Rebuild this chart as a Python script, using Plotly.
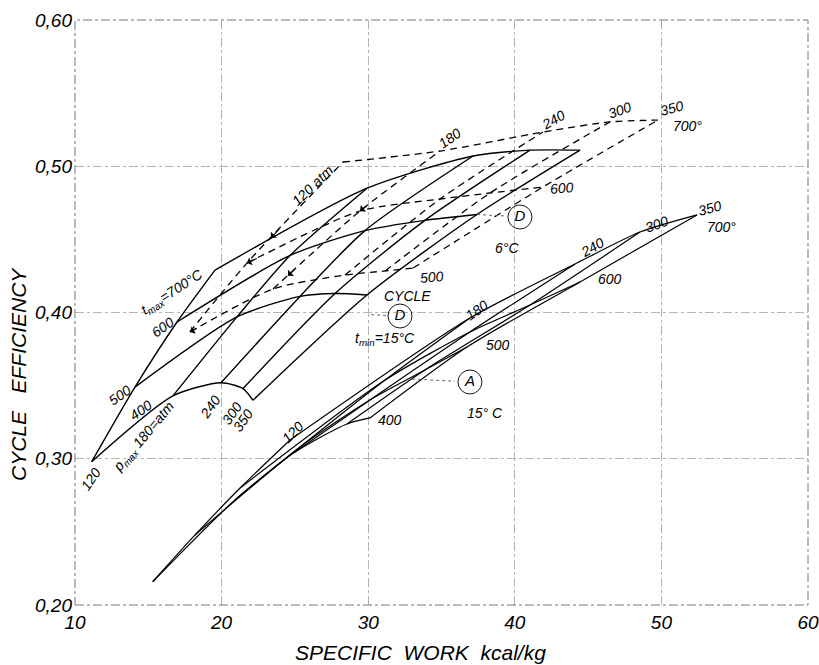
import plotly.graph_objects as go

PMAX = [120, 180, 240, 300, 350]
TMAX = [400, 500, 600, 700]

# Cycle D, t_min = 15 C (solid network) rows = t_max 400..700, cols = p_max
D15_X = [[11.14, 16.68, 19.96, 21.46, 22.14],
         [14.09, 21.05, 25.35, 27.74, 29.92],
         [16.96, 24.67, 29.78, 33.87, 37.42],
         [19.55, 29.92, 37.15, 41.04, 44.45]]
D15_Y = [[0.298, 0.343, 0.352, 0.348, 0.340],
         [0.349, 0.397, 0.411, 0.413, 0.412],
         [0.3935, 0.439, 0.456, 0.463, 0.467],
         [0.429, 0.485, 0.507, 0.511, 0.511]]

# Cycle D, t_min = 6 C (dashed network) rows = t_max 500..700
D6_T = [500, 600, 700]
D6_X = [[17.84, 23.51, 28.42, 31.15, 33.06],
        [21.73, 29.44, 34.90, 38.31, 41.92],
        [28.28, 34.90, 41.92, 46.49, 49.77]]
D6_Y = [[0.3867, 0.4161, 0.4256, 0.4284, 0.4304],
        [0.4338, 0.4694, 0.4776, 0.4817, 0.4858],
        [0.5029, 0.5104, 0.5234, 0.5303, 0.5316]]

# Cycle A, t_min = 15 C
A_X = [[15.30, 20.91, 25.01, 28.55, 30.12],
       [18.19, 25.35, 30.12, 33.87, 36.74],
       [21.26, 31.15, 36.94, 41.04, 44.45],
       [24.67, 36.94, 44.11, 48.54, 52.43]]
A_Y = [[0.2159, 0.2718, 0.3046, 0.3238, 0.3279],
       [0.2479, 0.3080, 0.3402, 0.3607, 0.3764],
       [0.2800, 0.3538, 0.3867, 0.4051, 0.4209],
       [0.3128, 0.3962, 0.4332, 0.4550, 0.4667]]

X_TICKS = [10, 20, 30, 40, 50, 60]
Y_TICKS = [0.2, 0.3, 0.4, 0.5, 0.6]
Y_TICKTEXT = ["0,20", "0,30", "0,40", "0,50", "0,60"]

# text labels: (text, x, y, angle)
LABELS = [
    ("120", 11.07, 0.2862, -55),
    ("p<sub>max</sub> 180=atm", 14.71, 0.3149, -50),
    ("400", 14.50, 0.3333, -35),
    ("500", 13.07, 0.3436, -35),
    ("600", 16.00, 0.3900, -35),
    ("t<sub>max</sub>=700°C", 16.68, 0.4140, -33),
    ("240", 19.21, 0.3354, -55),
    ("300", 20.71, 0.3313, -55),
    ("350", 21.46, 0.3265, -55),
    ("120 atm", 26.23, 0.4872, -44),
    ("180", 35.58, 0.5193, -35),
    ("240", 42.61, 0.5316, -30),
    ("300", 47.18, 0.5385, -20),
    ("350", 50.72, 0.5398, -15),
    ("700°", 51.81, 0.5275, 0),
    ("600", 43.22, 0.4851, -5),
    ("6°C", 39.47, 0.4440, 0),
    ("500", 34.35, 0.4243, -5),
    ("CYCLE", 32.65, 0.4113, 0),
    ("t<sub>min</sub>=15°C", 31.15, 0.3819, 0),
    ("120", 24.87, 0.3183, -45),
    ("180", 37.42, 0.4017, -35),
    ("240", 45.33, 0.4448, -30),
    ("300", 49.70, 0.4605, -20),
    ("350", 53.32, 0.4715, -15),
    ("700°", 54.13, 0.4585, 0),
    ("400", 31.49, 0.3265, 0),
    ("500", 38.85, 0.3778, 0),
    ("600", 46.49, 0.4229, 0),
    ("15° C", 37.97, 0.3313, 0),
]
CIRCLES = [("D", 40.35, 0.4653), ("D", 32.17, 0.3976), ("A", 36.94, 0.3525)]
LEADERS = [([37.42, 39.4], [0.467, 0.466]), ([30.2, 31.2], [0.3985, 0.3980]),
           ([33.0, 35.9], [0.3545, 0.3530])]

FONT = "Liberation Sans"
fig = go.Figure()


def line(xs, ys, dash="solid", width=1.4):
    fig.add_trace(go.Scatter(x=xs, y=ys, mode="lines", showlegend=False,
                             hoverinfo="skip",
                             line=dict(color="black", width=width, dash=dash,
                                       shape="spline", smoothing=0.7)))


def network(X, Y, dash, width):
    for r in range(len(X)):
        line(X[r], Y[r], dash, width)
    for c in range(len(X[0])):
        line([X[r][c] for r in range(len(X))], [Y[r][c] for r in range(len(X))], dash, width)


network(D15_X, D15_Y, "solid", 1.4)
network(D6_X, D6_Y, "7px,5px", 1.3)
network(A_X, A_Y, "solid", 1.2)


def arrow_between(xa, ya, xb, yb, f):
    """arrow head at fraction f from node a toward node b, pointing toward a"""
    x0, y0 = xa + f * (xb - xa), ya + f * (yb - ya)
    x1, y1 = x0 + 0.1 * (xb - xa), y0 + 0.1 * (yb - ya)
    return dict(x=x0, y=y0, ax=x1, ay=y1, xref="x", yref="y", axref="x", ayref="y",
                text="", showarrow=True, arrowhead=1, arrowsize=1.3, arrowwidth=1.1,
                arrowcolor="black")


arrows = [
    arrow_between(D6_X[0][0], D6_Y[0][0], D6_X[0][1], D6_Y[0][1], 0.0),
    arrow_between(D6_X[1][0], D6_Y[1][0], D6_X[1][1], D6_Y[1][1], 0.0),
    arrow_between(D6_X[1][0], D6_Y[1][0], D6_X[2][0], D6_Y[2][0], 0.25),
    arrow_between(D6_X[0][1], D6_Y[0][1], D6_X[1][1], D6_Y[1][1], 0.17),
    arrow_between(D6_X[1][1], D6_Y[1][1], D6_X[2][1], D6_Y[2][1], 0.0),
]

for xs, ys in LEADERS:
    fig.add_trace(go.Scatter(x=xs, y=ys, mode="lines", showlegend=False, hoverinfo="skip",
                             line=dict(color="#555", width=0.9, dash="dot")))

fig.add_trace(go.Scatter(x=[c[1] for c in CIRCLES], y=[c[2] for c in CIRCLES],
                         mode="markers+text", text=[c[0] for c in CIRCLES],
                         textposition="middle center", showlegend=False, hoverinfo="skip",
                         textfont=dict(family=FONT, size=15, color="black", style="italic"),
                         marker=dict(symbol="circle-open", size=24,
                                     line=dict(color="black", width=0.9), color="black")))

ann = []
for t, x, y, a in LABELS:
    ann.append(dict(x=x, y=y, xref="x", yref="y", text=t, textangle=a, showarrow=False,
                    font=dict(family=FONT, size=14, color="black", style="italic")))
ann += arrows
# axis titles; positions relative to the plot area (75..808 px, 20..605 px)
ann.append(dict(x=(18 - 75) / 733, y=(605 - 374) / 585, xref="paper", yref="paper",
                xanchor="center", yanchor="middle",
                text="CYCLE   EFFICIENCY", textangle=-90, showarrow=False,
                font=dict(family=FONT, size=21, color="black", style="italic")))
ann.append(dict(x=(420 - 75) / 733, y=(605 - 652) / 585, xref="paper", yref="paper",
                xanchor="center", yanchor="middle",
                text="SPECIFIC  WORK  kcal/kg", showarrow=False,
                font=dict(family=FONT, size=21, color="black", style="italic")))

fig.update_layout(
    width=819, height=665, margin=dict(l=75, r=11, t=20, b=60, autoexpand=False),
    plot_bgcolor="white", paper_bgcolor="white",
    annotations=ann,
    shapes=[dict(type="rect", xref="paper", yref="paper", x0=0, x1=1, y0=0, y1=1,
                 line=dict(color="#777", width=1, dash="dashdot"))],
    xaxis=dict(range=[10, 60], tickvals=X_TICKS, showgrid=True, griddash="dashdot",
               gridcolor="#b5b5b5", gridwidth=0.8, zeroline=False, showline=False,
               ticks="", automargin=False, ticklabelstandoff=4,
               tickfont=dict(family=FONT, size=19, color="black", style="italic")),
    yaxis=dict(range=[0.2, 0.6], tickvals=Y_TICKS, ticktext=Y_TICKTEXT, showgrid=True,
               griddash="dashdot", gridcolor="#b5b5b5", gridwidth=0.8, zeroline=False,
               showline=False, ticks="", automargin=False, ticklabelstandoff=2,
               tickfont=dict(family=FONT, size=19, color="black", style="italic")),
)
fig.write_html("out.html", config={"displayModeBar": False},
               post_script="document.body.style.margin='0';document.body.style.overflow='hidden';")
